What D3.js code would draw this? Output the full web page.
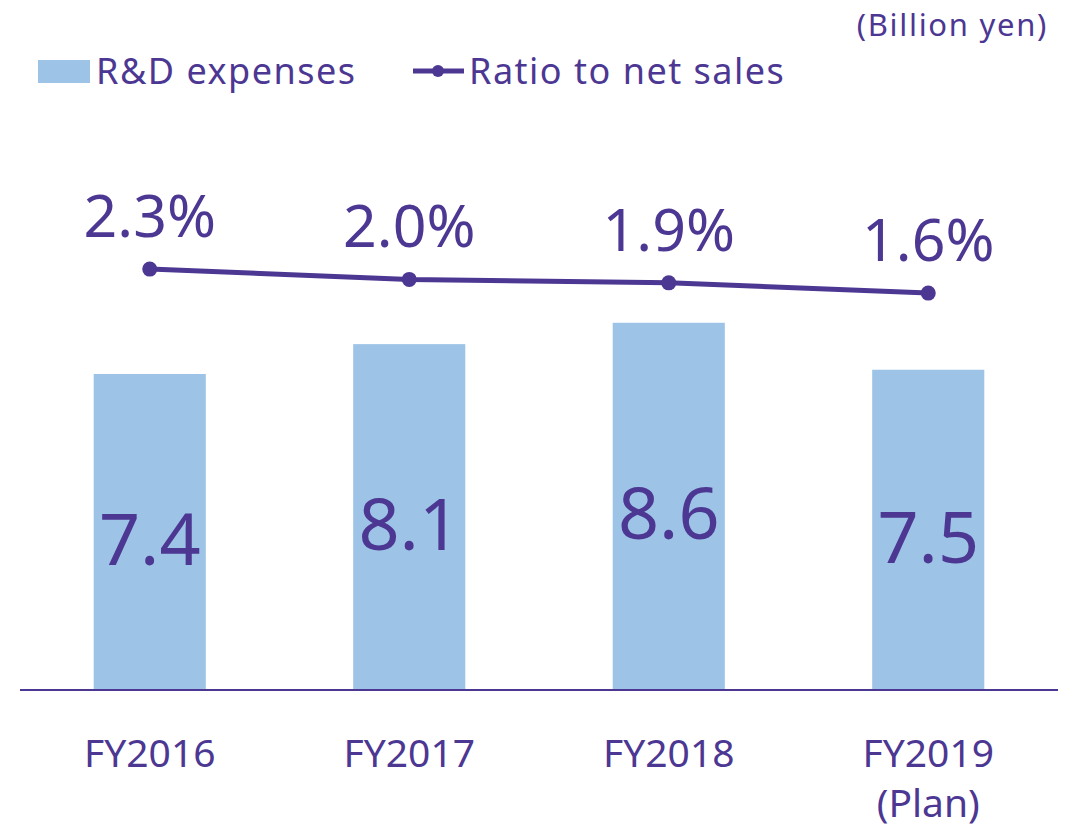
<!DOCTYPE html>
<html>
<head>
<meta charset="utf-8">
<script src="https://cdn.jsdelivr.net/npm/d3@7"></script>
<style>
  html, body { margin: 0; padding: 0; background: #fff; }
  svg { display: block; font-family: "Noto Sans", "Open Sans", sans-serif; }
</style>
</head>
<body>
<svg id="chart"></svg>
<script>
// chart values
const categories = ["FY2016", "FY2017", "FY2018", "FY2019"];
const categoryNotes = ["", "", "", "(Plan)"];
const rdExpenses = [7.4, 8.1, 8.6, 7.5];
const ratioToSales = [2.3, 2.0, 1.9, 1.6];
const legendLabels = ["R&D expenses", "Ratio to net sales"];
const unitLabel = "(Billion yen)";

const width = 1076, height = 831;
const purple = "#4C3793";
const barColor = "#9DC3E6";

const svg = d3.select("#chart").attr("width", width).attr("height", height);

const margin = { left: 20, right: 18, bottom: 141 };

const x = d3.scaleBand()
  .domain(categories)
  .range([margin.left, width - margin.right])
  .paddingInner(0.568)
  .paddingOuter(0.284);

// bars on the left scale
const y = d3.scaleLinear()
  .domain([0, 14])
  .range([height - margin.bottom, height - margin.bottom - 14 * 42.7]);

// ratio on its own scale
const y2 = d3.scaleLinear()
  .domain([0, 10])
  .range([348, 5]);

// bars
svg.append("g")
  .selectAll("rect")
  .data(rdExpenses)
  .join("rect")
  .attr("x", (d, i) => x(categories[i]))
  .attr("y", d => y(d))
  .attr("width", x.bandwidth())
  .attr("height", d => y(0) - y(d))
  .attr("fill", barColor);

// bar value labels
svg.append("g")
  .selectAll("text")
  .data(rdExpenses)
  .join("text")
  .attr("x", (d, i) => x(categories[i]) + x.bandwidth() / 2)
  .attr("y", d => (y(d) + y(0)) / 2 + 33)
  .attr("text-anchor", "middle")
  .attr("font-size", 72)
  .attr("fill", purple)
  .text(d => d.toFixed(1));

// x axis
const xAxis = d3.axisBottom(x).tickSize(0).tickFormat("");
const gx = svg.append("g")
  .attr("transform", `translate(0,${y(0)})`)
  .call(xAxis);
gx.select(".domain")
  .attr("stroke", purple)
  .attr("stroke-width", 2)
  .attr("d", `M${margin.left},0H${width - margin.right}`);

// category labels
const catText = svg.append("g")
  .selectAll("text")
  .data(categories)
  .join("text")
  .attr("x", d => x(d) + x.bandwidth() / 2)
  .attr("y", 767)
  .attr("text-anchor", "middle")
  .attr("font-size", 39)
  .attr("fill", purple);
catText.append("tspan").text(d => d);
catText.append("tspan")
  .attr("x", d => x(d) + x.bandwidth() / 2)
  .attr("dy", 50)
  .text((d, i) => categoryNotes[i]);

// ratio line
const line = d3.line()
  .x((d, i) => x(categories[i]) + x.bandwidth() / 2)
  .y(d => y2(d));

svg.append("path")
  .datum(ratioToSales)
  .attr("d", line)
  .attr("fill", "none")
  .attr("stroke", purple)
  .attr("stroke-width", 5);

svg.append("g")
  .selectAll("circle")
  .data(ratioToSales)
  .join("circle")
  .attr("cx", (d, i) => x(categories[i]) + x.bandwidth() / 2)
  .attr("cy", d => y2(d))
  .attr("r", 7.5)
  .attr("fill", purple);

svg.append("g")
  .selectAll("text")
  .data(ratioToSales)
  .join("text")
  .attr("x", (d, i) => x(categories[i]) + x.bandwidth() / 2)
  .attr("y", d => y2(d) - 32)
  .attr("text-anchor", "middle")
  .attr("font-size", 59)
  .attr("fill", purple)
  .text(d => d.toFixed(1) + "%");

// unit label
svg.append("text")
  .attr("x", 1048)
  .attr("y", 36)
  .attr("text-anchor", "end")
  .attr("font-size", 31)
  .attr("letter-spacing", 1.7)
  .attr("fill", purple)
  .text(unitLabel);

// legend
const legend = svg.append("g");
legend.append("rect")
  .attr("x", 38).attr("y", 60)
  .attr("width", 52).attr("height", 23)
  .attr("fill", barColor);
legend.append("text")
  .attr("x", 96).attr("y", 84)
  .attr("font-size", 36)
  .attr("letter-spacing", 1.5)
  .attr("fill", purple)
  .text(legendLabels[0]);
legend.append("line")
  .attr("x1", 413).attr("x2", 464)
  .attr("y1", 71).attr("y2", 71)
  .attr("stroke", purple)
  .attr("stroke-width", 5);
legend.append("circle")
  .attr("cx", 438).attr("cy", 71)
  .attr("r", 6)
  .attr("fill", purple);
legend.append("text")
  .attr("x", 469).attr("y", 84)
  .attr("font-size", 36)
  .attr("letter-spacing", 1.5)
  .attr("fill", purple)
  .text(legendLabels[1]);
</script>
</body>
</html>
